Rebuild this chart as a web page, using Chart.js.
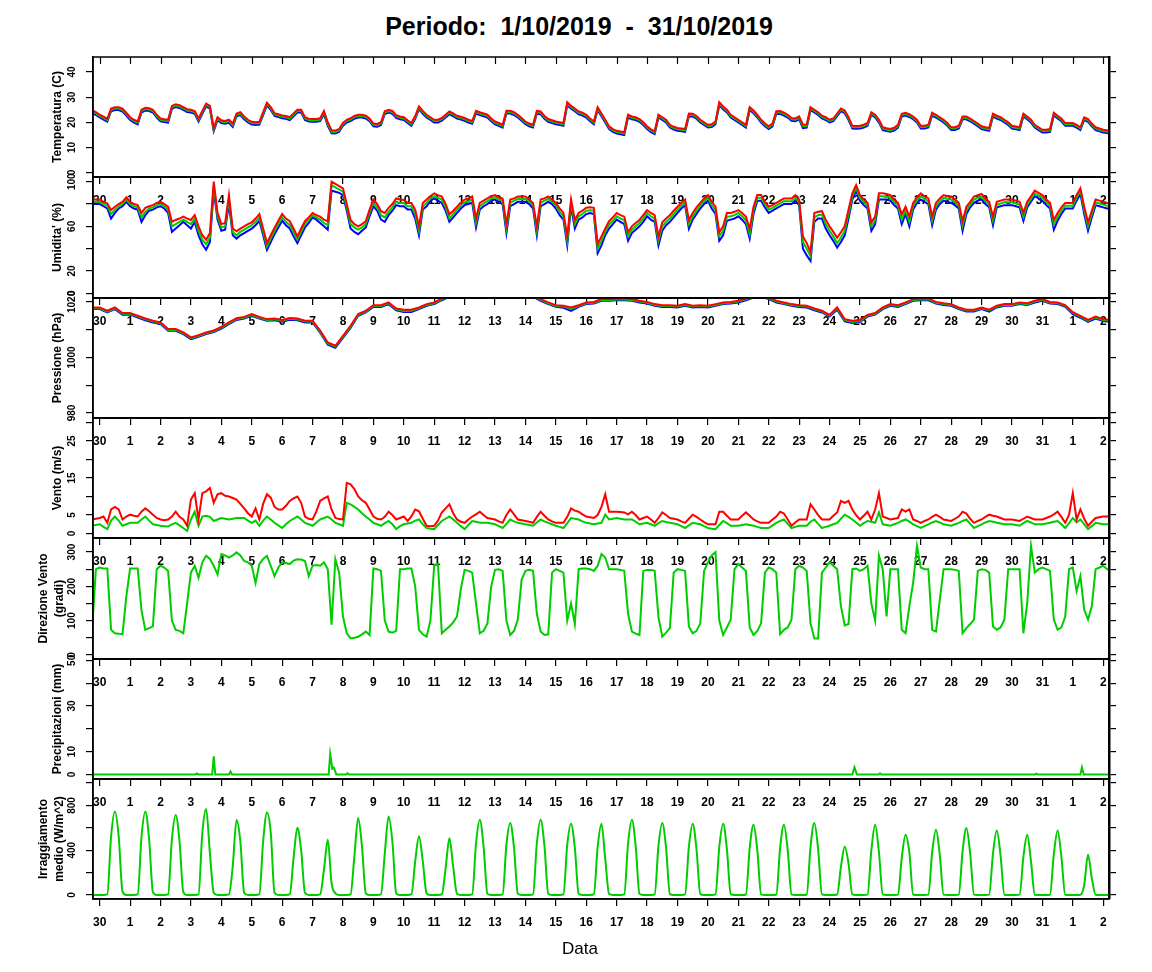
<!DOCTYPE html>
<html>
<head>
<meta charset="utf-8">
<title>Periodo 1/10/2019 - 31/10/2019</title>
<script src="https://cdn.jsdelivr.net/npm/chart.js@4.4.1/dist/chart.umd.min.js"></script>
<style>
  body { margin: 0; background: #fff; }
  #page { position: relative; width: 1152px; height: 972px; overflow: hidden;
          font-family: "Liberation Sans", Arial, Helvetica, sans-serif; }
  #title { position: absolute; top: 12px; left: 0; width: 1158px; text-align: center;
           font-weight: bold; font-size: 25px; white-space: pre; }
  #xlabel { position: absolute; top: 939px; left: 0; width: 1160px; text-align: center; font-size: 17px; }
  canvas { position: absolute; left: 0; }
</style>
</head>
<body>
<div id="page">
  <div id="title">Periodo:  1/10/2019  -  31/10/2019</div>
  <canvas id="p0"></canvas>
  <canvas id="p1"></canvas>
  <canvas id="p2"></canvas>
  <canvas id="p3"></canvas>
  <canvas id="p4"></canvas>
  <canvas id="p5"></canvas>
  <canvas id="p6"></canvas>
  <div id="xlabel">Data</div>
</div>
<script>
// asse x: giorni dal 30/09 ore 00
const dayLabels = ['30','1','2','3','4','5','6','7','8','9','10','11','12','13','14','15','16',
  '17','18','19','20','21','22','23','24','25','26','27','28','29','30','31','1','2'];

// primo campione: 29/09 ore 18, passo 3 ore (o 6 ore per la pressione)
const startDay = -0.25;
const step3h = 0.125;
const step6h = 0.25;

// etichette assi y
const tempTicks = [0, 10, 20, 30, 40];
const humTicks = [0, 20, 60, 100];
const pressTicks = [980, 1000, 1020];
const windTicks = [0, 5, 15, 25];
const dirTicks = [0, 100, 200, 300];
const rainTicks = [0, 10, 30, 50];
const radTicks = [0, 400, 800];

// temperatura (C) - max / media / min
const tempMax = [24.8, 24.0,
  23.0, 22.2, 21.4, 25.5, 26.0, 26.0, 25.4, 23.8,
  22.0, 21.0, 20.3, 25.0, 25.8, 25.6, 25.0, 23.0,
  21.5, 21.2, 21.0, 26.5, 27.2, 26.8, 26.0, 25.2,
  25.0, 24.5, 21.5, 24.5, 27.4, 26.5, 17.7, 22.0,
  20.8, 20.5, 21.0, 19.5, 23.5, 24.0, 22.3, 21.0,
  20.2, 20.0, 20.2, 24.0, 27.8, 26.0, 23.6, 23.2,
  22.7, 22.5, 22.0, 23.5, 25.0, 25.0, 22.0, 21.4,
  21.3, 21.3, 21.6, 24.5, 20.0, 16.8, 16.7, 17.3,
  19.7, 21.0, 21.6, 22.5, 23.0, 23.0, 22.6, 21.5,
  19.5, 19.3, 20.0, 24.4, 25.0, 24.5, 22.8, 22.3,
  22.0, 20.8, 19.7, 22.5, 26.3, 24.5, 23.0, 22.0,
  21.0, 21.0, 21.7, 23.0, 24.3, 23.5, 22.6, 22.2,
  21.7, 21.0, 20.5, 24.6, 24.0, 23.5, 23.0, 21.5,
  20.3, 19.7, 19.0, 24.6, 24.6, 24.0, 23.0, 21.7,
  20.3, 19.5, 19.0, 24.5, 24.3, 22.5, 21.3, 20.8,
  20.3, 20.0, 19.7, 28.0, 26.5, 25.5, 24.3, 23.8,
  23.0, 21.5, 20.3, 26.0, 23.5, 21.0, 18.4, 17.3,
  16.6, 16.3, 16.0, 23.0, 22.3, 22.0, 21.3, 20.0,
  18.4, 17.2, 16.4, 23.0, 22.0, 21.0, 19.0, 18.2,
  17.7, 17.5, 17.3, 23.5, 23.4, 22.5, 21.0, 20.0,
  19.0, 19.2, 20.3, 28.0, 26.3, 25.0, 23.0, 22.0,
  21.0, 20.0, 19.0, 26.0, 24.7, 23.0, 21.0, 19.5,
  18.4, 19.5, 24.4, 24.5, 23.8, 23.0, 21.7, 21.5,
  22.3, 19.0, 19.0, 26.0, 25.0, 24.0, 22.6, 22.0,
  21.0, 21.5, 23.5, 25.5, 24.7, 22.0, 18.6, 18.5,
  18.6, 19.0, 19.7, 24.0, 23.0, 21.0, 18.0, 17.6,
  17.3, 17.8, 19.0, 23.4, 23.8, 23.2, 22.3, 21.0,
  18.6, 18.6, 19.0, 23.8, 23.0, 22.0, 21.0, 19.7,
  18.0, 18.0, 18.6, 22.3, 22.3, 21.5, 20.5, 19.5,
  18.4, 18.0, 17.7, 23.4, 22.6, 22.0, 21.0, 20.0,
  18.6, 18.3, 18.0, 23.4, 22.3, 21.0, 19.0, 18.0,
  17.0, 17.0, 17.3, 23.8, 22.6, 21.5, 19.7, 19.7,
  19.7, 19.0, 18.0, 22.0, 21.3, 19.5, 18.0, 17.5,
  17.0, 16.8, 16.5];
const tempMed = [24.3, 23.5,
  22.5, 21.7, 20.9, 25.0, 25.5, 25.5, 24.9, 23.3,
  21.5, 20.5, 19.8, 24.4, 25.3, 25.1, 24.5, 22.5,
  21.0, 20.7, 20.5, 25.9, 26.7, 26.3, 25.5, 24.7,
  24.5, 24.0, 21.0, 24.0, 26.9, 26.0, 17.0, 21.4,
  20.3, 20.0, 20.5, 18.9, 23.0, 23.5, 21.8, 20.5,
  19.7, 19.5, 19.7, 23.4, 27.3, 25.5, 23.1, 22.7,
  22.2, 22.0, 21.5, 23.0, 24.5, 24.5, 21.5, 20.9,
  20.8, 20.8, 21.1, 24.0, 19.3, 16.2, 16.1, 16.8,
  19.2, 20.5, 21.1, 22.0, 22.5, 22.5, 22.1, 21.0,
  19.0, 18.8, 19.5, 23.9, 24.5, 24.0, 22.3, 21.8,
  21.5, 20.3, 19.2, 22.0, 25.8, 24.0, 22.5, 21.5,
  20.5, 20.5, 21.2, 22.5, 23.8, 23.0, 22.1, 21.7,
  21.2, 20.5, 20.0, 24.1, 23.5, 23.0, 22.5, 21.0,
  19.8, 19.2, 18.5, 24.1, 24.1, 23.5, 22.5, 21.2,
  19.8, 19.0, 18.5, 24.0, 23.8, 22.0, 20.8, 20.3,
  19.8, 19.5, 19.2, 27.4, 26.0, 25.0, 23.8, 23.3,
  22.5, 21.0, 19.8, 25.5, 23.0, 20.5, 17.9, 16.8,
  16.1, 15.8, 15.5, 22.5, 21.8, 21.5, 20.8, 19.5,
  17.9, 16.7, 15.9, 22.5, 21.5, 20.5, 18.5, 17.7,
  17.2, 17.0, 16.8, 23.0, 22.9, 22.0, 20.5, 19.5,
  18.5, 18.7, 19.8, 27.4, 25.8, 24.5, 22.5, 21.5,
  20.5, 19.5, 18.5, 25.5, 24.2, 22.5, 20.5, 19.0,
  17.9, 19.0, 23.9, 24.0, 23.3, 22.5, 21.2, 21.0,
  21.8, 18.4, 18.5, 25.4, 24.5, 23.5, 22.1, 21.5,
  20.5, 21.0, 23.0, 25.0, 24.2, 21.5, 18.1, 18.0,
  18.1, 18.5, 19.2, 23.5, 22.5, 20.5, 17.5, 17.1,
  16.8, 17.3, 18.5, 22.9, 23.3, 22.7, 21.8, 20.5,
  18.1, 18.1, 18.5, 23.3, 22.5, 21.5, 20.5, 19.2,
  17.5, 17.5, 18.1, 21.8, 21.8, 21.0, 20.0, 19.0,
  17.9, 17.5, 17.2, 22.9, 22.1, 21.5, 20.5, 19.5,
  18.1, 17.8, 17.5, 22.9, 21.8, 20.5, 18.5, 17.5,
  16.5, 16.5, 16.8, 23.3, 22.1, 21.0, 19.2, 19.2,
  19.2, 18.5, 17.5, 21.5, 20.8, 19.0, 17.5, 17.0,
  16.5, 16.3, 16.0];
const tempMin = [23.7, 22.9,
  21.9, 21.1, 20.3, 24.4, 24.9, 24.9, 24.3, 22.7,
  20.9, 19.9, 19.2, 23.8, 24.7, 24.5, 23.9, 21.9,
  20.4, 20.1, 19.9, 25.3, 26.1, 25.7, 24.9, 24.1,
  23.9, 23.4, 20.3, 23.4, 26.3, 25.4, 16.4, 20.8,
  19.7, 19.4, 19.8, 18.2, 22.4, 22.9, 21.2, 19.9,
  19.1, 18.9, 19.1, 22.8, 26.7, 24.9, 22.5, 22.1,
  21.6, 21.4, 20.9, 22.4, 23.9, 23.9, 20.9, 20.3,
  20.2, 20.2, 20.5, 23.3, 18.6, 15.6, 15.5, 16.2,
  18.6, 19.9, 20.5, 21.4, 21.9, 21.9, 21.5, 20.4,
  18.4, 18.2, 18.9, 23.3, 23.9, 23.4, 21.7, 21.2,
  20.9, 19.7, 18.6, 21.4, 25.2, 23.4, 21.9, 20.9,
  19.9, 19.9, 20.6, 21.9, 23.2, 22.4, 21.5, 21.1,
  20.6, 19.9, 19.4, 23.5, 22.9, 22.4, 21.9, 20.4,
  19.2, 18.6, 17.9, 23.5, 23.5, 22.9, 21.9, 20.6,
  19.2, 18.4, 17.9, 23.4, 23.2, 21.4, 20.2, 19.7,
  19.2, 18.9, 18.6, 26.8, 25.4, 24.4, 23.2, 22.7,
  21.9, 20.4, 19.2, 24.9, 22.4, 19.9, 17.3, 16.2,
  15.5, 15.2, 14.9, 21.9, 21.2, 20.9, 20.2, 18.9,
  17.3, 16.1, 15.3, 21.9, 20.9, 19.9, 17.9, 17.1,
  16.6, 16.4, 16.2, 22.4, 22.3, 21.4, 19.9, 18.9,
  17.9, 18.1, 19.2, 26.8, 25.2, 23.9, 21.9, 20.9,
  19.9, 18.9, 17.9, 24.9, 23.6, 21.9, 19.9, 18.4,
  17.3, 18.4, 23.3, 23.4, 22.7, 21.9, 20.6, 20.4,
  21.2, 17.7, 17.9, 24.8, 23.9, 22.9, 21.5, 20.9,
  19.9, 20.4, 22.4, 24.4, 23.6, 20.9, 17.5, 17.4,
  17.5, 17.9, 18.6, 22.9, 21.9, 19.9, 16.9, 16.5,
  16.2, 16.7, 17.9, 22.3, 22.7, 22.1, 21.2, 19.9,
  17.5, 17.5, 17.9, 22.7, 21.9, 20.9, 19.9, 18.6,
  16.9, 16.9, 17.5, 21.2, 21.2, 20.4, 19.4, 18.4,
  17.3, 16.9, 16.6, 22.3, 21.5, 20.9, 19.9, 18.9,
  17.5, 17.2, 16.9, 22.3, 21.2, 19.9, 17.9, 16.9,
  15.9, 15.9, 16.2, 22.7, 21.5, 20.4, 18.6, 18.6,
  18.6, 17.9, 16.9, 20.9, 20.2, 18.4, 16.9, 16.4,
  15.9, 15.7, 15.4];

// umidita' (%) - max / media / min
const humMax = [84, 84,
  84, 82, 80.5, 74.6, 77.6, 80, 82, 86,
  82, 80, 79, 72, 76.6, 78, 79, 81,
  82, 80, 77.6, 64, 65.7, 67, 68.7, 67,
  65.7, 70, 60, 52, 48, 54, 100, 72,
  62, 63, 88, 58, 55.5, 58, 60, 62,
  63.6, 67, 71, 58, 45, 52, 58.7, 65,
  71, 67, 64.6, 58, 51, 58, 64.6, 68,
  72, 70, 68.7, 66, 64.6, 100, 98, 96,
  94, 80, 65.7, 62, 60, 62, 64.6, 75,
  84, 80, 73.6, 72, 76.6, 80, 85, 84,
  83.7, 81, 81, 75, 60, 81, 84, 87,
  89.6, 88, 86.7, 80, 70.7, 74, 77.6, 81,
  84, 85, 86.7, 67, 81, 83, 85, 87,
  88, 86, 85, 62, 84, 85, 86.7, 86.7,
  86.7, 84, 81, 60, 84, 85, 86.7, 84,
  81, 76, 72, 51, 84, 65.7, 72, 74,
  76.6, 77, 76.6, 44, 51, 58, 64.6, 68,
  72, 70, 68.7, 54.7, 60, 63, 65.7, 70,
  74.6, 72, 70, 51, 63.6, 67, 70, 74,
  77.6, 81, 84, 65.7, 72, 77, 81, 85,
  88, 82, 77.6, 54.7, 60, 72, 72, 73,
  74.6, 72, 68.7, 57.6, 77.6, 88, 88, 82,
  77.6, 79, 81, 83, 85, 85, 85, 88,
  84, 51, 45, 37, 72, 73, 73.6, 66,
  60, 55, 49.8, 54.7, 60, 75, 89.6, 97,
  88, 84, 81, 63.6, 68.7, 89.6, 89.6, 89,
  88, 84, 81, 70.7, 77.6, 68.7, 81, 86,
  89.6, 87, 85, 68.7, 81, 85, 88, 87,
  86.7, 84, 81, 64.6, 77.6, 82, 86.7, 88,
  89, 85, 82, 68.7, 82, 83, 84, 84,
  84, 83, 82, 72, 82, 87, 92, 90,
  88, 84, 81, 65.7, 72, 77, 81, 81,
  81, 88, 94, 77.6, 63.6, 74, 84, 83,
  82, 81, 81];
const humMed = [82, 82,
  82, 80, 78.5, 71, 75, 78, 80, 84,
  80, 78, 77, 68, 73, 76, 77, 79,
  80, 78, 75, 60, 62, 64, 66, 64,
  62, 67, 56, 48, 44, 50, 96, 69,
  59, 60, 84, 55, 52, 55, 57, 59,
  61, 64, 68, 55, 42, 49, 56, 62,
  68, 64, 61, 55, 48, 55, 62, 66,
  70, 68, 66, 63, 61, 97, 95, 93,
  91, 77, 62, 59, 57, 59, 62, 72,
  81, 77, 70, 68, 73, 77, 82, 81,
  81, 78, 78, 71, 56, 78, 81, 85,
  87, 85.5, 84, 77, 67, 71, 75, 78.5,
  81.5, 82.5, 84, 63, 78, 80.5, 82.5, 85,
  86, 84, 83, 58, 81, 83, 84.5, 84.5,
  84.5, 82, 79, 56, 81, 83, 84.5, 82,
  78.5, 73, 69, 47, 81, 62, 69, 71,
  74, 74.5, 74, 40, 47, 55, 61.5, 65,
  69, 67, 65.5, 51, 57, 60, 63, 67,
  72, 69, 67, 47, 60, 64, 67, 71,
  75, 78.5, 81.5, 62, 69, 74, 78.5, 82.5,
  85.5, 79, 74.5, 51, 56, 68.5, 69, 70,
  72, 69, 65.5, 53, 74.5, 85.5, 85.5, 79.5,
  75, 76.5, 78.5, 80.5, 82.5, 82.5, 82.5, 85.5,
  81.5, 46, 40, 33, 68, 70, 70.5, 62,
  56, 51, 45, 50, 56, 71, 87, 94.5,
  85.5, 81.5, 78.5, 60, 65.5, 87, 87, 86.5,
  85.5, 81.5, 78.5, 66, 74.5, 64, 78, 83.5,
  87, 84.5, 82.5, 65, 78, 82.5, 85.5, 84.5,
  84, 81.5, 78.5, 60.5, 74.5, 79.5, 84, 85.5,
  86.5, 82.5, 79.5, 65, 79.5, 80.5, 81.5, 81.5,
  81.5, 80.5, 79.5, 68.5, 79.5, 84.5, 89.5, 87.5,
  85.5, 81.5, 78.5, 61.5, 68.5, 74, 78.5, 78.5,
  78.5, 85.5, 91.5, 74.5, 60, 71, 81.5, 80.5,
  79.5, 78.5, 78.5];
const humMin = [80, 80,
  80, 78, 76, 67, 72, 76, 78, 82,
  78, 76, 75, 64, 70, 74, 75, 77,
  78, 76, 72, 55, 58, 61, 64, 61,
  58, 64, 52, 44, 39, 46, 92, 66,
  56, 57, 80, 52, 49, 52, 54, 56,
  58, 61, 65, 52, 39, 46, 53, 59,
  65, 61, 58, 51, 45, 52, 59, 63,
  68, 66, 63, 60, 57, 92, 91, 90,
  88, 74, 58, 55, 53, 56, 59, 69,
  78, 74, 66, 64, 70, 74, 79, 78,
  78, 75, 75, 67, 52, 75, 78, 83,
  85, 83, 81, 74, 64, 68, 72, 76,
  79, 80, 81, 59, 75, 78, 80, 83,
  84, 82, 80, 54, 78, 80, 82, 82,
  82, 80, 76, 52, 78, 80, 82, 80,
  76, 70, 66, 43, 78, 58, 66, 68,
  71, 72, 71, 36, 43, 52, 58, 62,
  66, 64, 62, 47, 54, 57, 60, 64,
  69, 66, 64, 43, 56, 61, 64, 68,
  72, 76, 79, 58, 66, 71, 76, 80,
  83, 76, 71, 47, 52, 65, 66, 67,
  69, 66, 62, 49, 71, 83, 83, 77,
  72, 74, 76, 78, 80, 80, 80, 83,
  79, 40, 34, 29, 64, 67, 67, 58,
  52, 47, 41, 46, 52, 67, 84, 92,
  83, 79, 76, 56, 62, 84, 84, 84,
  83, 79, 76, 62, 71, 60, 75, 81,
  84, 82, 80, 61, 75, 80, 83, 82,
  81, 79, 76, 56, 71, 77, 81, 83,
  84, 80, 77, 61, 77, 78, 79, 79,
  79, 78, 77, 65, 77, 82, 87, 85,
  83, 79, 76, 57, 65, 71, 76, 76,
  76, 83, 89, 71, 56, 68, 79, 78,
  77, 76, 76];

// pressione (hPa), passo 6 ore - max / media / min
const pressMax = [1018,
  1018, 1016.8, 1018, 1016,
  1016, 1015, 1014, 1013.2,
  1012.6, 1010.2, 1010.2, 1009,
  1007.2, 1008, 1009, 1009.7,
  1011, 1012.6, 1014.1, 1014.6,
  1015.6, 1014.6, 1013.8, 1014,
  1013.5, 1014.2, 1014, 1013.2,
  1013.2, 1009.7, 1005.4, 1004.2,
  1007.8, 1011.4, 1015.6, 1016.8,
  1018.8, 1018.8, 1019.8, 1017.6,
  1017.2, 1017.2, 1018, 1019.2,
  1019.8, 1021.2, 1022.5, 1023.5,
  1024, 1024.5, 1025, 1025.5,
  1026, 1025.5, 1025, 1024.5,
  1023.5, 1022.5, 1021, 1019.8,
  1018.8, 1018.6, 1018, 1018.8,
  1019.8, 1020, 1021, 1021,
  1021.2, 1021.2, 1021, 1020.4,
  1020, 1019.2, 1018.8, 1018.8,
  1018.6, 1019.2, 1018.6, 1018.8,
  1018.6, 1019.2, 1019.8, 1020,
  1020.4, 1021.2, 1022.2, 1022.5,
  1021.6, 1020.4, 1019.8, 1019.2,
  1018.8, 1018.6, 1017.6, 1016.8,
  1015.3, 1018, 1013.8, 1013.2,
  1013.5, 1015.3, 1016, 1018,
  1019.2, 1018.8, 1019.8, 1021,
  1021.2, 1021.2, 1020, 1019.5,
  1019.2, 1018, 1017.2, 1017.2,
  1018, 1017.2, 1018.6, 1019.2,
  1019.2, 1019.8, 1019.5, 1020.4,
  1021, 1020, 1019.8, 1018.8,
  1016.3, 1015, 1013.5, 1014.7,
  1013.8, 1013.5];
const pressMed = [1017.7,
  1017.7, 1016.5, 1017.7, 1015.7,
  1015.7, 1014.7, 1013.7, 1012.9,
  1012.3, 1009.9, 1009.9, 1008.7,
  1006.9, 1007.7, 1008.7, 1009.4,
  1010.7, 1012.3, 1013.8, 1014.3,
  1015.3, 1014.3, 1013.5, 1013.7,
  1013.2, 1013.9, 1013.7, 1012.9,
  1012.9, 1009.3, 1005.0, 1003.9,
  1007.4, 1011.0, 1015.3, 1016.5,
  1018.5, 1018.5, 1019.5, 1017.3,
  1016.7, 1016.8, 1017.7, 1018.9,
  1019.5, 1020.9, 1022.2, 1023.2,
  1023.7, 1024.2, 1024.7, 1025.2,
  1025.7, 1025.2, 1024.7, 1024.2,
  1023.2, 1022.2, 1020.7, 1019.5,
  1018.5, 1018.3, 1017.5, 1018.5,
  1019.5, 1019.7, 1020.7, 1020.7,
  1020.9, 1020.9, 1020.7, 1020.1,
  1019.7, 1018.9, 1018.5, 1018.5,
  1018.3, 1018.9, 1018.3, 1018.5,
  1018.3, 1018.9, 1019.5, 1019.7,
  1020.1, 1020.9, 1021.9, 1022.2,
  1021.3, 1020.1, 1019.5, 1018.9,
  1018.5, 1018.3, 1017.3, 1016.5,
  1015.0, 1017.6, 1013.4, 1012.8,
  1013.1, 1015.0, 1015.7, 1017.7,
  1018.9, 1018.5, 1019.5, 1020.7,
  1020.9, 1020.9, 1019.7, 1019.2,
  1018.9, 1017.7, 1016.9, 1016.9,
  1017.7, 1016.9, 1018.3, 1018.9,
  1018.9, 1019.5, 1019.2, 1020.1,
  1020.7, 1019.7, 1019.5, 1018.5,
  1016.0, 1014.7, 1013.2, 1014.4,
  1013.5, 1013.2];
const pressMin = [1017.4,
  1017.4, 1016.2, 1017.4, 1015.4,
  1015.4, 1014.4, 1013.4, 1012.6,
  1012.0, 1009.6, 1009.6, 1008.4,
  1006.6, 1007.4, 1008.4, 1009.1,
  1010.4, 1012.0, 1013.5, 1014.0,
  1015.0, 1014.0, 1013.2, 1013.4,
  1012.9, 1013.6, 1013.4, 1012.6,
  1012.6, 1008.9, 1004.6, 1003.5,
  1007.0, 1010.6, 1015.0, 1016.2,
  1018.2, 1018.2, 1019.2, 1017.0,
  1016.4, 1016.4, 1017.4, 1018.6,
  1019.2, 1020.6, 1021.9, 1022.9,
  1023.4, 1023.9, 1024.4, 1024.9,
  1025.4, 1024.9, 1024.4, 1023.9,
  1022.9, 1021.9, 1020.4, 1019.2,
  1018.2, 1017.9, 1016.8, 1018.2,
  1019.2, 1019.4, 1020.4, 1020.4,
  1020.6, 1020.6, 1020.4, 1019.8,
  1019.4, 1018.6, 1018.2, 1018.2,
  1018.0, 1018.6, 1018.0, 1018.2,
  1018.0, 1018.6, 1019.2, 1019.4,
  1019.8, 1020.6, 1021.6, 1021.9,
  1021.0, 1019.8, 1019.2, 1018.6,
  1018.2, 1018.0, 1017.0, 1016.2,
  1014.7, 1017.2, 1013.0, 1012.4,
  1012.8, 1014.7, 1015.4, 1017.4,
  1018.6, 1018.2, 1019.2, 1020.4,
  1020.6, 1020.6, 1019.4, 1018.9,
  1018.6, 1017.4, 1016.5, 1016.5,
  1017.4, 1016.5, 1018.0, 1018.6,
  1018.6, 1019.2, 1018.9, 1019.8,
  1020.4, 1019.4, 1019.2, 1018.2,
  1015.6, 1014.3, 1012.8, 1014.0,
  1013.1, 1012.8];

// vento (m/s) - raffica / medio
const windGust = [3.8, 4.0,
  4.2, 4.6, 2.9, 6.5, 7.2, 6.5, 3.8, 4.6,
  5.1, 4.8, 4.6, 5.9, 6.8, 6.0, 5.1, 4.2,
  3.8, 3.6, 3.8, 4.6, 5.9, 4.5, 3.8, 2.1,
  9.2, 10.9, 3.8, 10.9, 11.4, 12.3, 8.3, 10.6,
  10.9, 10.2, 10, 9.6, 9.2, 8, 6.8, 5.5,
  4.6, 6.8, 3.8, 8, 10.6, 9.7, 7.2, 6.5,
  6.5, 7.5, 8.8, 9.5, 10, 8.3, 4.6, 4.0,
  3.8, 6, 8.8, 9.5, 10, 6.5, 4.2, 3.9,
  3.8, 13.7, 13.3, 12, 10, 9, 8.3, 6.5,
  4.6, 4, 3.8, 4.5, 5.9, 5, 3.8, 4.2,
  4.6, 3.4, 4.6, 6.5, 6.0, 4, 2.1, 2.0,
  2.1, 3.5, 5.7, 6.8, 7.9, 5.5, 3.8, 3.2,
  2.9, 3.8, 4.6, 5.2, 5.9, 5, 4.2, 4.0,
  3.8, 3.3, 2.9, 5, 6.5, 5.2, 3.8, 3.6,
  3.4, 3.2, 2.9, 4.5, 5.9, 4.8, 3.8, 3.3,
  2.9, 2.9, 2.9, 4.5, 6.8, 6.2, 5.9, 5.2,
  4.6, 4.4, 4.2, 5, 7.2, 10.6, 5.9, 5.9,
  5.9, 5.8, 5.7, 5.2, 5.9, 5, 3.8, 4.2,
  4.6, 3.8, 2.9, 4.2, 5.7, 5, 4.2, 4.0,
  3.8, 3.3, 2.9, 4, 5.1, 4.5, 3.8, 3.1,
  2.5, 2.5, 2.5, 5.9, 5.9, 4.8, 3.8, 3.8,
  3.8, 4.8, 5.7, 4.8, 3.8, 3.3, 2.9, 2.9,
  2.9, 3.8, 4.6, 5.9, 5.4, 3.8, 2.1, 3.0,
  3.8, 3.8, 3.8, 7.9, 6.5, 5, 3.8, 3.8,
  3.8, 4.8, 5.7, 8.8, 8.3, 8.8, 6.5, 5,
  3.8, 4.8, 5.9, 3.8, 6.5, 10.9, 4.6, 4.2,
  3.8, 4, 4.2, 6.5, 5.9, 6.5, 3.8, 3.4,
  2.9, 3.4, 3.8, 4.5, 5.1, 4.5, 3.8, 3.6,
  3.4, 4, 4.6, 5.9, 5.4, 4, 2.9, 3.4,
  3.8, 4.5, 5.1, 4.8, 4.6, 4.2, 3.8, 3.8,
  3.8, 3.6, 3.4, 4, 4.6, 4.2, 3.8, 3.8,
  3.8, 4.2, 4.6, 5.2, 5.9, 4.5, 2.9, 5,
  10.9, 3.8, 6.5, 4, 2.1, 3.2, 4.2, 4.4,
  4.6, 4.6, 4.6];
const windMean = [2.1, 2.3,
  2.5, 1.8, 1.2, 3.5, 4.6, 3.5, 2.1, 2.5,
  2.9, 2.9, 2.9, 3.8, 4.6, 3.5, 2.5, 2.3,
  2.1, 2.0, 1.9, 2.5, 2.9, 2.2, 1.5, 0.7,
  3.8, 5.9, 2.1, 4.6, 4.8, 4.5, 3.4, 3.8,
  4.2, 4.0, 3.8, 4.0, 4.2, 4.2, 4.2, 3.5,
  2.9, 3.5, 2.1, 3.5, 4.6, 3.8, 2.9, 2.2,
  1.5, 2.5, 3.4, 4.0, 4.6, 3.8, 2.9, 2.5,
  2.1, 3.0, 3.8, 4.2, 4.6, 3.8, 2.9, 2.5,
  2.1, 8.3, 7.9, 7.2, 6.5, 5.5, 4.6, 3.8,
  2.9, 2.5, 2.1, 2.8, 3.4, 2.5, 1.2, 2.0,
  2.5, 2.7, 2.9, 3.5, 3.8, 2.5, 1.5, 1.3,
  1.2, 2.3, 3.4, 4.0, 4.6, 3.8, 2.9, 2.0,
  1.2, 2.3, 3.4, 3.2, 2.9, 2.9, 2.9, 2.7,
  2.5, 2.0, 1.5, 2.6, 3.8, 3.3, 2.9, 2.7,
  2.5, 2.3, 2.1, 3.0, 3.8, 3.3, 2.9, 2.5,
  2.1, 1.8, 1.5, 2.8, 4.2, 4.0, 3.8, 3.3,
  2.9, 2.7, 2.5, 2.7, 2.9, 5.1, 3.8, 4.0,
  4.2, 4.0, 3.8, 3.8, 3.8, 3.2, 2.5, 2.7,
  2.9, 2.5, 2.1, 2.8, 3.4, 3.1, 2.9, 2.7,
  2.5, 2.0, 1.5, 2.2, 2.9, 2.7, 2.5, 2.0,
  1.5, 1.3, 1.2, 2.3, 3.4, 2.8, 2.1, 2.1,
  2.1, 2.3, 2.5, 2.3, 2.1, 1.8, 1.5, 1.5,
  1.5, 2.2, 2.9, 3.4, 3.8, 2.6, 1.5, 1.8,
  2.1, 2.1, 2.1, 3.2, 3.8, 2.6, 1.5, 1.8,
  2.1, 2.5, 2.9, 4.0, 5.1, 4.5, 3.8, 3.0,
  2.1, 2.8, 3.4, 3.2, 2.9, 5.7, 2.5, 2.3,
  2.1, 2.5, 2.9, 3.4, 3.8, 3.2, 2.5, 2.0,
  1.5, 2.0, 2.5, 3.0, 3.4, 3.0, 2.5, 2.3,
  2.1, 2.5, 2.9, 3.4, 3.8, 2.6, 1.5, 2.0,
  2.5, 3.0, 3.4, 3.2, 2.9, 2.7, 2.5, 2.5,
  2.5, 2.3, 2.1, 2.8, 3.4, 3.0, 2.5, 2.5,
  2.5, 2.7, 2.9, 3.2, 3.4, 2.5, 1.5, 2.8,
  4.2, 3.0, 3.8, 2.5, 1.2, 2.0, 2.9, 2.7,
  2.5, 2.5, 2.5];

// direzione vento (gradi)
const windDir = [73, 250,
  255, 252, 252, 73, 63, 62, 60, 170,
  252, 252, 252, 130, 73, 78, 83, 250,
  260, 255, 245, 100, 73, 70, 63, 150,
  240, 260, 225, 270, 289, 280, 260, 235,
  294, 290, 284, 290, 299, 290, 274, 270,
  260, 210, 265, 280, 289, 260, 230, 255,
  270, 268, 265, 275, 279, 278, 274, 230,
  260, 262, 260, 270, 250, 88, 279, 240,
  112, 63, 48, 50, 53, 60, 68, 58,
  252, 250, 245, 100, 68, 65, 70, 250,
  250, 252, 252, 200, 73, 60, 53, 100,
  260, 265, 63, 73, 83, 95, 112, 191,
  248, 245, 240, 150, 63, 70, 92, 200,
  248, 250, 245, 100, 58, 70, 103, 220,
  245, 248, 245, 120, 68, 58, 60, 240,
  250, 245, 240, 100, 150, 90, 250, 252,
  252, 250, 245, 260, 294, 284, 250, 250,
  250, 248, 245, 120, 68, 62, 58, 245,
  248, 248, 245, 110, 53, 65, 78, 240,
  250, 248, 245, 83, 63, 70, 92, 245,
  270, 290, 300, 100, 58, 80, 103, 250,
  265, 255, 245, 80, 58, 70, 92, 240,
  255, 250, 240, 60, 73, 80, 103, 250,
  260, 255, 245, 92, 48, 48, 240, 255,
  270, 260, 250, 142, 86, 90, 250, 252,
  245, 250, 260, 150, 100, 290, 250, 112,
  250, 250, 250, 73, 63, 142, 211, 318,
  255, 250, 250, 73, 68, 160, 250, 250,
  250, 248, 245, 63, 78, 90, 103, 245,
  250, 248, 240, 83, 73, 80, 103, 250,
  250, 250, 250, 63, 150, 318, 240, 250,
  255, 250, 245, 103, 73, 80, 112, 250,
  255, 186, 230, 132, 103, 142, 250, 255,
  260, 250, 245];

// precipitazioni (mm): istanti (giorni) e valori
const rainTimes = [-0.25, 3.15, 3.2, 3.25, 3.7, 3.75, 3.8, 4.25, 4.3, 4.35,
  7.53, 7.58, 7.65, 7.7, 7.78, 8.1, 8.15, 8.2, 24.75, 24.82, 24.9,
  25.62, 25.66, 25.7, 30.76, 30.8, 30.84, 32.25, 32.3, 32.36, 33.25];
const rainValues = [0, 0, 0.4, 0, 0, 7.9, 0, 0, 1.3, 0,
  0, 8.9, 2.5, 3, 0, 0, 0.5, 0, 0, 3.1, 0,
  0, 0.5, 0, 0, 0.3, 0, 0, 3.1, 0, 0];

// irraggiamento medio (W/m^2)
const radiation = [0, 0,
  0, 0, 5, 523, 745, 523, 30, 0,
  0, 0, 5, 520, 745, 500, 25, 0,
  0, 0, 5, 500, 715, 480, 25, 0,
  0, 0, 5, 553, 767, 372, 20, 0,
  0, 0, 5, 256, 670, 480, 20, 0,
  0, 0, 5, 480, 737, 560, 20, 0,
  0, 0, 5, 330, 600, 400, 20, 0,
  0, 0, 5, 226, 494, 107, 15, 0,
  0, 0, 5, 345, 688, 434, 15, 0,
  0, 0, 5, 372, 702, 480, 15, 0,
  0, 0, 5, 300, 524, 300, 15, 0,
  0, 0, 5, 238, 506, 250, 10, 0,
  0, 0, 5, 460, 672, 430, 10, 0,
  0, 0, 5, 450, 643, 420, 10, 0,
  0, 0, 5, 460, 672, 440, 10, 0,
  0, 0, 5, 450, 637, 420, 10, 0,
  0, 0, 5, 430, 637, 320, 10, 0,
  0, 0, 5, 460, 672, 440, 10, 0,
  0, 0, 5, 440, 643, 420, 8, 0,
  0, 0, 5, 430, 637, 410, 8, 0,
  0, 0, 5, 430, 637, 410, 8, 0,
  0, 0, 4, 420, 628, 400, 6, 0,
  0, 0, 4, 420, 628, 400, 6, 0,
  0, 0, 4, 430, 643, 410, 5, 0,
  0, 0, 4, 250, 434, 280, 5, 0,
  0, 0, 3, 400, 628, 380, 5, 0,
  0, 0, 3, 330, 539, 380, 4, 0,
  0, 0, 3, 380, 583, 360, 3, 0,
  0, 0, 3, 390, 598, 370, 3, 0,
  0, 0, 3, 370, 577, 350, 2, 0,
  0, 0, 3, 340, 539, 300, 2, 0,
  0, 0, 2, 360, 577, 340, 2, 0,
  0, 0, 2, 89, 360, 150, 2, 0,
  0, 0, 0];

const RED = '#FF0000', GREEN = '#00CD00', BLUE = '#0000FF';
const FONT = '"Liberation Sans", Arial, Helvetica, sans-serif';
const panelTops = [57, 177, 298, 418, 538, 659, 779, 899];

function timed(values, step) {
  return values.map((v, i) => ({ x: startDay + i * step, y: v }));
}
function line(data, color, smooth) {
  const ds = { data, borderColor: color, borderWidth: 2, pointRadius: 0, tension: 0, fill: false, clip: 0 };
  if (smooth) { ds.cubicInterpolationMode = 'monotone'; }
  return ds;
}

const panels = [
  { title: 'Temperatura (C)', min: -1.8, max: 46, step: 10, labels: tempTicks,
    datasets: [line(timed(tempMax, step3h), RED), line(timed(tempMed, step3h), GREEN), line(timed(tempMin, step3h), BLUE)] },
  { title: "Umidita' (%)", min: -4.2, max: 104.2, step: 20, labels: humTicks,
    datasets: [line(timed(humMax, step3h), RED), line(timed(humMed, step3h), GREEN), line(timed(humMin, step3h), BLUE)] },
  { title: 'Pressione (hPa)', min: 978.2, max: 1021.4, step: 10, labels: pressTicks,
    datasets: [line(timed(pressMax, step6h), RED), line(timed(pressMed, step6h), GREEN), line(timed(pressMin, step6h), BLUE)] },
  { title: 'Vento (m/s)', min: -1.2, max: 31.2, step: 5, labels: windTicks,
    datasets: [line(timed(windGust, step3h), RED), line(timed(windMean, step3h), GREEN)] },
  { title: ['Direzione Vento', '(gradi)'], min: -12, max: 341, step: 50, labels: dirTicks,
    datasets: [line(timed(windDir, step3h), GREEN)] },
  { title: 'Precipitazioni (mm)', min: -2, max: 50.6, step: 10, labels: rainTicks,
    datasets: [line(rainTimes.map((t, i) => ({ x: t, y: rainValues[i] })), GREEN)] },
  { title: ['Irraggiamento', 'medio (W/m^2)'], min: -36, max: 1036, step: 200, labels: radTicks,
    datasets: [line(timed(radiation, step3h), GREEN, true)] }
];

// cornice, etichette y ruotate, tacche interne in alto
const framePlugin = {
  id: 'frame',
  afterDraw(chart, args, opts) {
    const { ctx, chartArea: a, scales } = chart;
    ctx.save();
    ctx.strokeStyle = '#000';
    ctx.lineWidth = 1.5;
    ctx.strokeRect(a.left, a.top, a.right - a.left, a.bottom - a.top);
    if (opts.topTicks) {
      ctx.lineWidth = 1.2;
      scales.x.ticks.forEach(t => {
        const x = Math.round(scales.x.getPixelForValue(t.value)) + 0.5;
        ctx.beginPath(); ctx.moveTo(x, a.top); ctx.lineTo(x, a.top + 7); ctx.stroke();
      });
    }
    ctx.fillStyle = '#000';
    ctx.font = 'bold 10px ' + FONT;
    ctx.textAlign = 'center';
    ctx.textBaseline = 'middle';
    opts.labels.forEach(v => {
      ctx.save();
      ctx.translate(72, scales.y.getPixelForValue(v));
      ctx.rotate(-Math.PI / 2);
      ctx.fillText(String(v), 0, 0);
      ctx.restore();
    });
    ctx.restore();
  }
};

panels.forEach((p, i) => {
  const top = panelTops[i];
  const h = panelTops[i + 1] - top;
  const cv = document.getElementById('p' + i);
  cv.width = 1152;
  cv.height = 8 + h + 40;
  cv.style.top = (top - 8) + 'px';
  const twoLines = Array.isArray(p.title);
  const yCommon = {
    min: p.min, max: p.max,
    ticks: { stepSize: p.step, display: false, includeBounds: false },
    grid: { drawOnChartArea: false, drawTicks: true, tickLength: 7, color: '#000', lineWidth: 1.2 }
  };
  new Chart(cv, {
    type: 'line',
    data: { datasets: p.datasets },
    options: {
      responsive: false,
      animation: false,
      events: [],
      parsing: false,
      layout: { padding: { top: 8, left: 0, right: 35, bottom: 0 } },
      plugins: {
        legend: { display: false },
        tooltip: { enabled: false },
        frame: { labels: p.labels, topTicks: i === 0 }
      },
      scales: {
        x: {
          type: 'linear', min: -0.22, max: 33.19,
          ticks: {
            stepSize: 1, autoSkip: false, maxRotation: 0, includeBounds: false, padding: 9,
            color: '#000', font: { family: FONT, size: 12, weight: 'bold' },
            callback: v => dayLabels[Math.round(v)]
          },
          grid: { drawOnChartArea: false, tickLength: 7, color: '#000', lineWidth: 1.2 },
          border: { display: true, color: '#000', width: 1.5 },
          afterFit: s => { s.height = 40; }
        },
        y: Object.assign({}, yCommon, {
          position: 'left',
          border: { display: true, color: '#000', width: 1.5 },
          title: {
            display: true, text: p.title, color: '#000',
            font: { family: FONT, size: 12, weight: 'bold', lineHeight: 1.3 },
            padding: { top: twoLines ? 36 : 50, bottom: 0 }
          },
          afterFit: s => { s.width = 93; }
        }),
        y2: Object.assign({}, yCommon, {
          position: 'right',
          border: { display: true, color: '#000', width: 2.5 },
          afterFit: s => { s.width = 8; }
        })
      }
    },
    plugins: [framePlugin]
  });
});
</script>
</body>
</html>
